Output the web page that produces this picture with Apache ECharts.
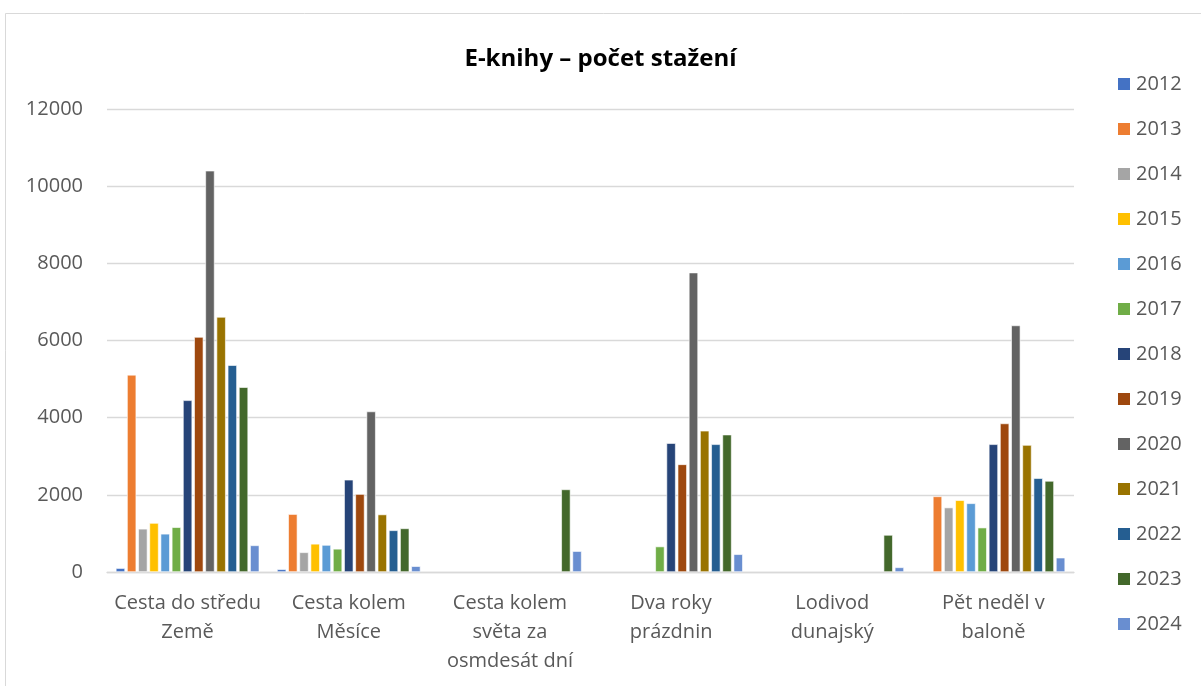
<!DOCTYPE html>
<html>
<head>
<meta charset="utf-8">
<script src="https://cdn.jsdelivr.net/npm/echarts@6/dist/echarts.min.js"></script>
<style>
  html, body { margin: 0; padding: 0; background: #fff; }
  #chart { width: 1201px; height: 686px; }
</style>
</head>
<body>
<div id="chart"></div>
<script>
// Kniha (categories on the x axis)
const categories = [
  'Cesta do středu\nZemě',
  'Cesta kolem\nMěsíce',
  'Cesta kolem\nsvěta za\nosmdesát dní',
  'Dva roky\nprázdnin',
  'Lodivod\ndunajský',
  'Pět neděl v\nbaloně'
];

const years = ['2012', '2013', '2014', '2015', '2016', '2017', '2018',
               '2019', '2020', '2021', '2022', '2023', '2024'];

// Downloads per year, one value per book (null = no data)
const v2012 = [100, 70, null, null, null, null];
const v2013 = [5110, 1500, null, null, null, 1960];
const v2014 = [1120, 510, null, null, null, 1670];
const v2015 = [1270, 730, null, null, null, 1860];
const v2016 = [990, 700, null, null, null, 1780];
const v2017 = [1160, 600, null, 660, null, 1150];
const v2018 = [4450, 2390, null, 3340, null, 3310];
const v2019 = [6090, 2020, null, 2790, null, 3850];
const v2020 = [10400, 4160, null, 7760, null, 6390];
const v2021 = [6610, 1490, null, 3660, null, 3290];
const v2022 = [5360, 1080, null, 3310, null, 2430];
const v2023 = [4790, 1130, 2140, 3560, 960, 2360];
const v2024 = [690, 150, 540, 460, 120, 370];

const yearValues = [v2012, v2013, v2014, v2015, v2016, v2017, v2018,
                    v2019, v2020, v2021, v2022, v2023, v2024];

const yTicks = { min: 0, max: 12000, interval: 2000 };

const palette = ['#4472C4', '#ED7D31', '#A5A5A5', '#FFC000', '#5B9BD5', '#70AD47',
                 '#264478', '#9E480E', '#636363', '#997300', '#255E91', '#43682B', '#698ED0'];

const font = '"Open Sans", "DejaVu Sans", sans-serif';
const labelColor = '#595959';

const chart = echarts.init(document.getElementById('chart'), null, { renderer: 'canvas' });

chart.setOption({
  backgroundColor: '#ffffff',
  animation: false,
  color: palette,
  title: {
    text: 'E-knihy – počet stažení',
    left: 'center',
    top: 42,
    textStyle: { fontFamily: font, fontSize: 24, fontWeight: 'bold', color: '#000000' }
  },
  graphic: [{
    type: 'rect',
    shape: { x: 5.5, y: 13.5, width: 1300, height: 800 },
    style: { fill: 'none', stroke: '#D9D9D9', lineWidth: 1 },
    silent: true,
    z: -1
  }],
  legend: {
    orient: 'vertical',
    left: 1111,
    top: 69,
    itemWidth: 14,
    itemHeight: 14,
    itemGap: 25,
    icon: 'rect',
    data: years,
    textStyle: { fontFamily: font, fontSize: 20, color: labelColor, lineHeight: 20 }
  },
  grid: { left: 107, right: 127, top: 109, bottom: 114 },
  xAxis: {
    type: 'category',
    data: categories,
    axisLine: { show: true, lineStyle: { color: '#D9D9D9', width: 1.3 } },
    axisTick: { show: false },
    axisLabel: {
      interval: 0,
      margin: 17,
      fontFamily: font,
      fontSize: 20,
      lineHeight: 29,
      color: labelColor,
      align: 'center'
    }
  },
  yAxis: {
    type: 'value',
    min: yTicks.min,
    max: yTicks.max,
    interval: yTicks.interval,
    axisLine: { show: false },
    axisTick: { show: false },
    splitLine: { lineStyle: { color: '#D9D9D9', width: 1.3 } },
    axisLabel: {
      fontFamily: font, fontSize: 20, color: labelColor, margin: 24,
      formatter: (v) => String(v)
    }
  },
  series: years.map((y, i) => ({
    name: y,
    type: 'bar',
    data: yearValues[i],
    barGap: '22%',
    barCategoryGap: '11%',
    itemStyle: { borderColor: '#ffffff', borderWidth: 0.6 }
  }))
});
</script>
</body>
</html>
